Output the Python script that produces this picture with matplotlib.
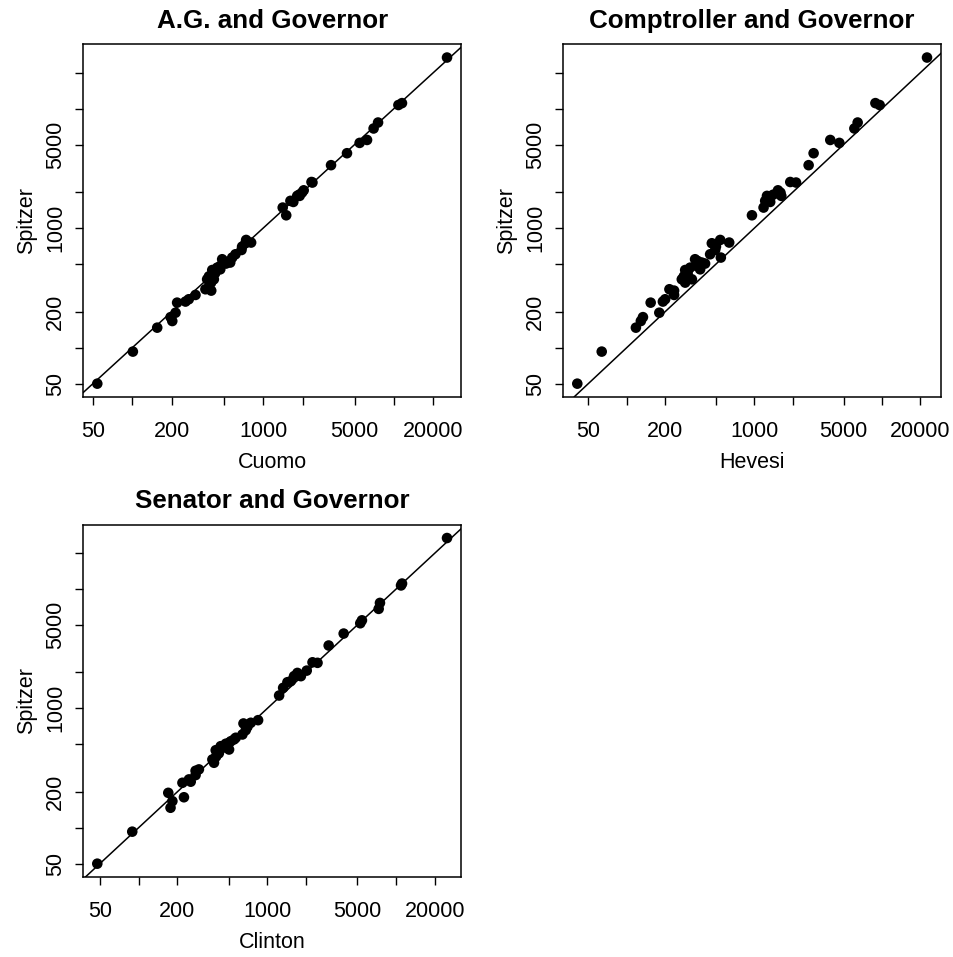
import numpy as np
import matplotlib
matplotlib.use("Agg")
import matplotlib.pyplot as plt

plt.rcParams['font.family'] = ['Liberation Sans', 'DejaVu Sans']

# county values, same order in every array
spitzer = [26700, 11100, 10700, 7640, 6810, 5460, 5160, 4230, 3360, 2430,
           2405, 2070, 1980, 1900, 1860, 1860, 1690, 1655, 1485, 1280,
           796, 757, 747, 700, 656, 604, 567, 549, 530, 515,
           505, 482, 467, 452, 446, 420, 395, 373, 373, 350,
           308, 300, 276, 254, 243, 238, 196, 180, 167, 147,
           92.7, 50]
cuomo = [25400, 11500, 10800, 7550, 6980, 6220, 5460, 4370, 3300, 2340,
         2380, 2040, 1980, 1880, 1900, 1820, 1615, 1700, 1410, 1500,
         741, 809, 732, 690, 683, 614, 580, 486, 500, 560,
         520, 470, 445, 470, 408, 430, 385, 373, 420, 400,
         362, 401, 304, 270, 255, 220, 214, 196, 202, 155,
         101, 54]
hevesi = [22500, 8870, 9580, 6440, 6070, 3930, 4630, 2910, 2660, 1910,
          2120, 1530, 1600, 1400, 1625, 1255, 1215, 1330, 1180, 957,
          540, 635, 464, 500, 493, 450, 546, 343, 360, 387,
          411, 354, 314, 376, 287, 300, 280, 324, 270, 287,
          216, 235, 235, 200, 192, 154, 180, 134, 129, 118,
          63.7, 41]
clinton = [24800, 11100, 10900, 7480, 7310, 5420, 5260, 3910, 2990, 2240,
           2450, 2020, 1710, 1750, 1820, 1610, 1520, 1430, 1325, 1233,
           847, 743, 652, 700, 679, 640, 568, 551, 520, 504,
           475, 434, 450, 504, 397, 420, 400, 374, 385, 385,
           294, 277, 277, 246, 254, 219, 170, 225, 183, 177,
           89.3, 47.8]

tick_vals = [50, 100, 200, 500, 1000, 2000, 5000, 10000, 20000]
xtick_text = ["50", "", "200", "", "1000", "", "5000", "", "20000"]
ytick_text = ["50", "", "200", "", "1000", "", "5000", "", ""]

W, H = 954, 957
fig = plt.figure(figsize=(W / 100, H / 100), dpi=100)

# (title, x values, x label, box in pixels: left, top, right, bottom)
panels = [
    ("A.G. and Governor", cuomo, "Cuomo", (83.3, 44.5, 461, 396.7)),
    ("Comptroller and Governor", hevesi, "Hevesi", (563.3, 44.5, 941, 396.7)),
    ("Senator and Governor", clinton, "Clinton", (83.3, 525, 461, 876.7)),
]


def log_limits(vals):
    lo, hi = np.log10(min(vals)), np.log10(max(vals))
    pad = 0.04 * (hi - lo)
    return 10 ** (lo - pad), 10 ** (hi + pad)


for title, xs, xlab, (l, t, r, b) in panels:
    ax = fig.add_axes([l / W, 1 - b / H, (r - l) / W, (b - t) / H])
    ax.set_xscale('log')
    ax.set_yscale('log')
    ax.scatter(xs, spitzer, s=58, c='black', edgecolors='none', zorder=3)
    ax.axline((1, 1), (10, 10), color='black', lw=1.1)
    ax.set_xlim(log_limits(xs))
    ax.set_ylim(log_limits(spitzer))

    ax.set_xticks(tick_vals)
    ax.set_xticklabels(xtick_text)
    ax.set_yticks(tick_vals)
    ax.set_yticklabels(ytick_text)
    ax.minorticks_off()
    ax.tick_params(direction='out', length=5.5, width=1, labelsize=15.5, colors='black')
    ax.tick_params(axis='x', pad=12)
    ax.tick_params(axis='y', pad=7)
    for lab in ax.get_yticklabels():
        lab.set_rotation(90)
        lab.set_va('center')
    for sp in ax.spines.values():
        sp.set_linewidth(1.1)

    ax.set_title(title, fontsize=18.7, fontweight='bold', pad=12)
    ax.set_xlabel(xlab, fontsize=15.5, labelpad=7)
    ax.set_ylabel("Spitzer", fontsize=15.5, labelpad=6)

fig.savefig("out.png", dpi=100)
